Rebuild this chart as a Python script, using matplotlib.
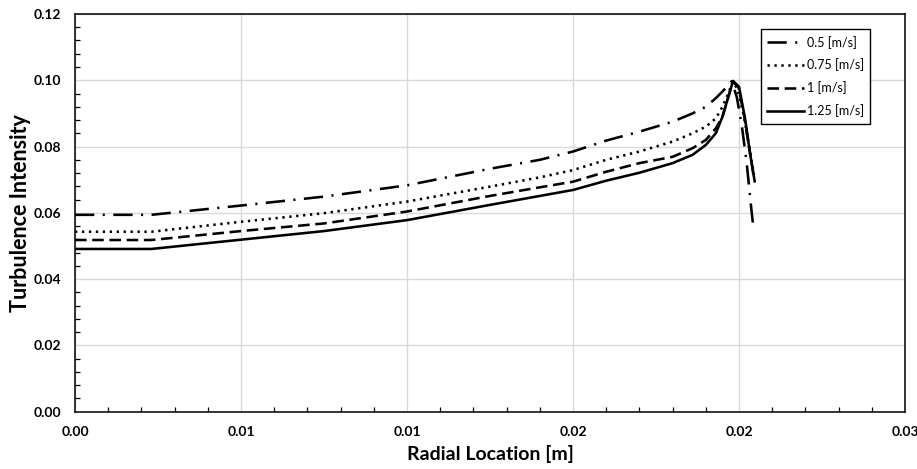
import matplotlib.pyplot as plt
from matplotlib.ticker import MultipleLocator, FixedLocator, FixedFormatter

# radial location [m] shared by all series up to just before the peak
r_main = [0.0, 0.0023, 0.0050, 0.0075, 0.0100, 0.0125, 0.0140, 0.0150, 0.0160, 0.0170,
          0.0180, 0.0186, 0.0190, 0.0193, 0.0195, 0.01968]

# turbulence intensity along r_main
ti_05 = [0.0594, 0.0594, 0.0622, 0.0649, 0.0683, 0.0733, 0.0760, 0.0785, 0.0818, 0.0845,
         0.0875, 0.0900, 0.0920, 0.0946, 0.0966, 0.0986]
ti_075 = [0.0543, 0.0543, 0.0573, 0.0599, 0.0634, 0.0679, 0.0707, 0.0729, 0.0760, 0.0785,
          0.0815, 0.0840, 0.0860, 0.0885, 0.0920, 0.0961]
ti_1 = [0.0518, 0.0518, 0.0545, 0.0568, 0.0604, 0.0651, 0.0677, 0.0694, 0.0724, 0.0750,
        0.0769, 0.0795, 0.0820, 0.0855, 0.0890, 0.0951]
ti_125 = [0.0491, 0.0491, 0.0519, 0.0545, 0.0578, 0.0624, 0.0651, 0.0669, 0.0697, 0.0721,
          0.0750, 0.0775, 0.0805, 0.0840, 0.0890, 0.0951]

# peak and wall-side drop of each series
r_tail_05 = [0.01978, 0.01993, 0.02008, 0.02023, 0.02035, 0.02043]
ti_tail_05 = [0.0997, 0.0950, 0.0865, 0.0750, 0.0630, 0.0556]
r_tail_075 = [0.01980, 0.01995, 0.02015, 0.02030, 0.02045]
ti_tail_075 = [0.0995, 0.0975, 0.0890, 0.0800, 0.0715]
r_tail_1 = [0.01981, 0.01998, 0.02015, 0.02030, 0.02045]
ti_tail_1 = [0.0995, 0.0980, 0.0895, 0.0800, 0.0705]
r_tail_125 = [0.01982, 0.02000, 0.02018, 0.02033, 0.02047]
ti_tail_125 = [0.0998, 0.0980, 0.0885, 0.0780, 0.0695]

labels = ["0.5 [m/s]", "0.75 [m/s]", "1 [m/s]", "1.25 [m/s]"]

x_ticks = [0.0, 0.005, 0.010, 0.015, 0.020, 0.025]
x_tick_labels = ["0.00", "0.01", "0.01", "0.02", "0.02", "0.03"]
y_ticks = [0.0, 0.02, 0.04, 0.06, 0.08, 0.10, 0.12]

plt.rcParams['font.family'] = ['Lato', 'DejaVu Sans']

fig = plt.figure(figsize=(9.17, 4.69), dpi=100)
ax = fig.add_axes([0.0818, 0.1222, 0.9052, 0.848])

lw = 1.85
ax.plot(r_main + r_tail_05, ti_05 + ti_tail_05, color='black', lw=lw,
        dashes=(7.5, 3.3, 0.8, 3.3), label=labels[0])
ax.plot(r_main + r_tail_075, ti_075 + ti_tail_075, color='black', lw=lw,
        dashes=(0.9, 1.8), label=labels[1])
ax.plot(r_main + r_tail_1, ti_1 + ti_tail_1, color='black', lw=lw,
        dashes=(4.5, 2.2), label=labels[2])
ax.plot(r_main + r_tail_125, ti_125 + ti_tail_125, color='black', lw=lw, label=labels[3])

ax.set_xlim(0, 0.025)
ax.set_ylim(0, 0.12)
ax.xaxis.set_major_locator(FixedLocator(x_ticks))
ax.xaxis.set_major_formatter(FixedFormatter(x_tick_labels))
ax.xaxis.set_minor_locator(MultipleLocator(0.001))
ax.yaxis.set_major_locator(FixedLocator(y_ticks))
ax.yaxis.set_major_formatter(plt.FuncFormatter(lambda v, p: "%.2f" % v))
ax.yaxis.set_minor_locator(MultipleLocator(0.004))

ax.tick_params(which='major', length=0, pad=10, labelsize=10)
ax.tick_params(which='minor', direction='in', length=3.5, width=0.9)
for lab in ax.get_xticklabels() + ax.get_yticklabels():
    lab.set_fontweight('bold')

ax.grid(True, which='major', color='#d9d9d9', lw=1.0)
ax.set_axisbelow(True)
for sp in ax.spines.values():
    sp.set_color('black')
    sp.set_linewidth(1.1)

ax.set_xlabel("Radial Location [m]", fontsize=14, fontweight='bold', labelpad=5)
ax.set_ylabel("Turbulence Intensity", fontsize=15.5, fontweight='bold', labelpad=2)

leg = ax.legend(loc='upper right', bbox_to_anchor=(0.9655, 0.977), fontsize=9,
                handlelength=3.0, handletextpad=0.2, borderpad=0.5, labelspacing=0.8,
                fancybox=False, framealpha=1, edgecolor='black')
leg.get_frame().set_linewidth(1.0)

fig.savefig('out.png', dpi=100)
